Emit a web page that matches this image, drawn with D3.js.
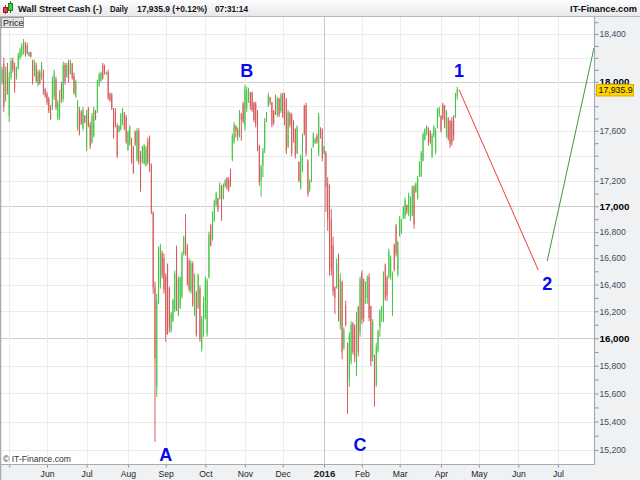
<!DOCTYPE html>
<html>
<head>
<meta charset="utf-8">
<script src="https://cdn.jsdelivr.net/npm/d3@7/dist/d3.min.js"></script>
<style>
  body { margin: 0; background: #fff; }
  svg { display: block; font-family: Arial, "Liberation Sans", sans-serif; }
</style>
</head>
<body>
<svg id="chart" width="640" height="480"></svg>
<script>
// Daily candles [open, high, low, close], one per weekday from 27 Apr 2015
const firstDay = '2015-04-27';
const may15 = [
  [18000,18126,17977,18100],[18150,18201,17753,17800],[17860,18126,17836,18080],[18120,18159,17894,17930],
  [17720,18085,17670,18040],[18040,18201,18018,18170],[18180,18201,18076,18100],[18130,18159,17910,17950],
  [18030,18126,18018,18100],[18110,18242,18101,18220],[18200,18284,18184,18260],[18230,18325,18209,18300],
  [18250,18358,18226,18330],[18310,18334,18209,18230],[18300,18325,18226,18240],[18215,18251,18209,18245],
  [18245,18251,18201,18210],[18170,18184,17977,18000],[18050,18184,18043,18160],[18140,18159,17993,18010],
  [17980,18101,17960,18080],[18080,18101,17977,17990],[18030,18168,18018,18140],[18080,18101,17894,17920],
  [17940,17952,17869,17880]
];
const jun15 = [
  [17900,17919,17811,17830],[17860,17877,17744,17760],[17790,17811,17686,17700],[17790,18043,17769,18010],
  [17880,18101,17852,18070],[18020,18043,17769,17790],[17700,17852,17686,17830],[17720,17935,17686,17910],
  [17980,18002,17827,17850],[17860,18168,17836,18140],[18140,18159,17977,18000],[18040,18159,18035,18140],
  [18160,18184,17993,18010],[18070,18184,18060,18170],[18150,18159,18018,18030],[18050,18076,17894,17910],
  [17880,18018,17869,18000],[17630,17852,17603,17830],[17770,17794,17562,17580],[17750,17769,17645,17660],
  [17620,17794,17603,17770],[17720,17728,17661,17670]
];
const jul15 = [
  [17470,17769,17437,17740],[17780,17794,17628,17640],[17650,17670,17454,17480],[17510,17744,17495,17720],
  [17560,17794,17545,17770],[17760,17769,17686,17700],[17760,18018,17744,17990],[17980,18076,17960,18060],
  [18010,18085,18002,18075],[18140,18159,18018,18030],[18130,18143,18060,18070],[18062,18085,18060,18080],
  [18080,18101,17852,17870],[17900,17910,17836,17845],[17890,17910,17769,17780],[17770,17786,17537,17550],
  [17760,17786,17628,17640],[17640,17661,17379,17400],[17590,17645,17587,17640],[17610,17744,17603,17730],
  [17650,17786,17645,17770],[17740,17753,17603,17620],[17710,17728,17495,17510]
];
const aug15 = [
  [17450,17603,17437,17590],[17490,17645,17479,17630],[17530,17545,17338,17360],[17460,17479,17254,17270],
  [17590,17603,17479,17490],[17370,17620,17354,17600],[17600,17620,17329,17350],[17420,17437,17114,17140],
  [17350,17479,17338,17470],[17340,17495,17329,17480],[17320,17479,17313,17460],[17520,17545,17329,17350],
  [17540,17562,17271,17290],[17320,17338,16939,16960],[16950,16962,16331,16380],[16380,16423,15256,15850],
  [15650,16331,15576,16280],[16280,16689,16255,16650],[16400,16711,16369,16680],[16640,16658,16445,16470],
  [16600,16635,16331,16360]
];
const sep15 = [
  [16460,16483,15974,16030],[16530,16559,16027,16060],[16370,16385,16043,16080],[16060,16195,16043,16180],
  [16130,16293,16119,16280],[16210,16506,16195,16480],[16670,16696,16202,16230],[16180,16461,16164,16440],
  [16230,16461,16217,16450],[16310,16651,16293,16630],[16630,16772,16620,16760],[16780,16939,16620,16640],
  [16690,16711,16392,16410],[16580,16597,16347,16360],[16350,16582,16331,16560],[16560,16575,16233,16250],
  [16180,16483,16164,16460],[16340,16354,16012,16030],[16230,16483,16217,16470],[16370,16392,15974,16000],
  [15930,16164,15903,16140],[16030,16309,16012,16290]
];
const oct15 = [
  [16150,16461,16141,16440],[16040,16445,16012,16430],[16460,16803,16445,16780],[16850,16863,16689,16700],
  [16750,16962,16734,16950],[16890,17053,16879,17040],[17010,17114,17000,17100],[17060,17069,16955,16980],
  [17060,17188,17053,17170],[17150,17167,16886,16920],[17060,17179,17053,17170],[17160,17213,17145,17200],
  [17220,17230,17129,17150],[17210,17230,17114,17130],[17280,17296,17152,17170],[17370,17578,17354,17560],
  [17510,17670,17495,17650],[17640,17645,17545,17600],[17610,17628,17520,17560],[17560,17769,17545,17750],
  [17735,17744,17520,17690],[17820,17836,17661,17680]
];
const nov15 = [
  [17640,17977,17603,17940],[17780,17960,17753,17930],[17860,17952,17827,17940],[17910,17919,17769,17800],
  [17910,17919,17753,17770],[17830,17836,17670,17690],[17820,17836,17628,17650],[17760,17769,17437,17460],
  [17480,17487,17163,17190],[17200,17329,17076,17310],[17320,17462,17230,17440],[17450,17703,17421,17680],
  [17690,17753,17670,17720],[17800,17910,17794,17890],[17870,17877,17811,17830],[17830,17836,17628,17660],
  [17760,17769,17645,17660],[17880,17894,17728,17750],[17730,17877,17711,17860],[17860,17869,17711,17730],
  [17760,17910,17744,17890]
];
const dec15 = [
  [17900,17910,17703,17720],[17900,17910,17645,17660],[17850,17869,17412,17440],[17470,17769,17462,17750],
  [17740,17753,17628,17650],[17730,17744,17396,17420],[17680,17686,17504,17520],[17610,17620,17379,17400],
  [17420,17645,17412,17630],[17350,17354,17188,17200],[17150,17412,17129,17390],[17300,17578,17271,17560],
  [17800,17811,17562,17580],[17810,17827,17396,17420],[17360,17371,17076,17100],[17130,17213,17114,17200],
  [17210,17462,17188,17440],[17470,17587,17462,17570],[17500,17545,17495,17530],[17560,17578,17495,17510],
  [17420,17744,17396,17720],[17620,17628,17537,17550],[17610,17620,17354,17380]
];
const jan16 = [
  [17415,17479,17412,17470],[17420,17437,16955,17150],[17180,17230,16810,16900],[17100,17171,16468,16560],
  [16900,16977,16468,16520],[16700,16765,16316,16350],[16380,16385,16179,16300],[16380,16597,16369,16560],
  [16600,16635,16126,16200],[16100,16483,16065,16440],[16420,16430,15846,15900],[15930,16081,15917,16060],
  [16240,16278,16088,16100],[15960,15967,15455,15760],[15700,16043,15647,16020],[15830,16126,15810,16100],
  [16110,16119,15881,15900],[16090,16103,15825,15860],[15750,16195,15725,16170],[16230,16240,15867,15900],
  [16050,16461,16012,16440]
];
const feb16 = [
  [16490,16506,16103,16140],[16440,16445,16119,16150],[16300,16423,16255,16410],[16300,16468,16255,16450],
  [16460,16483,16126,16150],[16240,16240,15796,15830],[15860,16141,15832,16120],[15870,15881,15505,15620],
  [15660,15967,15647,15940],[15910,16065,15896,16050],[16080,16217,16012,16200],[16190,16240,16119,16230],
  [16130,16499,16119,16480],[16550,16559,16278,16300],[16450,16468,16278,16320],[16460,16673,16445,16650],
  [16460,16620,16437,16600],[16190,16499,16164,16480],[16700,16711,16499,16520],[16850,16863,16613,16640],
  [16480,16734,16461,16720]
];
const mar16 = [
  [16770,16924,16765,16910],[16800,16901,16787,16890],[16905,17000,16901,16990],[16920,17069,16901,17050],
  [17010,17015,16939,16960],[16950,17107,16924,17090],[16890,17076,16886,17060],[16930,17163,16924,17150],
  [17150,17167,16825,16860],[17110,17188,17107,17180],[17060,17238,17053,17220],[17240,17354,17230,17340],
  [17240,17437,17230,17420],[17360,17587,17354,17570],[17530,17620,17520,17610],[17580,17645,17562,17640],
  [17620,17628,17479,17500],[17600,17603,17495,17510],[17400,17578,17379,17560],[17560,17645,17545,17630],
  [17430,17620,17412,17600],[17620,17786,17620,17770],[17730,17794,17711,17780]
];
const apr16 = [
  [17720,17728,17587,17600],[17810,17827,17686,17700],[17800,17811,17620,17640],[17560,17769,17545,17750],
  [17700,17711,17520,17540],[17680,17686,17462,17490],[17680,17711,17479,17500],[17700,17728,17520,17560],
  [17720,17910,17703,17890],[17880,17960,17852,17936]
];

const lastPrice = 17935.9;

// axis values
const gridPrices = [15200,15400,15600,15800,16000,16200,16400,16600,16800,17000,17200,17400,17600,17800,18000,18200,18400];
const majorPrices = [16000, 17000, 18000];
const priceLabels = [15200,15400,15600,15800,16000,16200,16400,16600,16800,17000,17200,17600,18000,18400];
const monthStarts = ['2015-05-01','2015-06-01','2015-07-01','2015-08-01','2015-09-01','2015-10-01','2015-11-01',
  '2015-12-01','2016-01-01','2016-02-01','2016-03-01','2016-04-01','2016-05-01','2016-06-01','2016-07-01'];
const monthLabels = ['','Jun','Jul','Aug','Sep','Oct','Nov','Dec','2016','Feb','Mar','Apr','May','Jun','Jul'];

// projected waves and the wave letters
const waveDown = [['2016-04-15', 17936], ['2016-06-16', 16510]];
const waveUp = [['2016-06-23', 16578], ['2016-07-29', 18282]];
const waveLabels = [
  ['A', '2015-09-01', 15167], ['B', '2015-11-03', 18098], ['C', '2016-01-29', 15238],
  ['1', '2016-04-15', 18090], ['2', '2016-06-23', 16405]
];

// header texts: [text, left x, width]
const headerParts = [
  ['Wall Street Cash (-)', 18, 84], ['Daily', 110, 18], ['17,935.9 (+0.12%)', 137, 70], ['07:31:14', 215, 33]
];

const candles = [].concat(may15, jun15, jul15, aug15, sep15, oct15, nov15, dec15, jan16, feb16, mar16, apr16);

const parseDay = d3.timeParse('%Y-%m-%d');
const start = parseDay(firstDay);

// count weekdays from the first candle (weekend dates fall on the next weekday)
function dayIndex(d) {
  let n = 0;
  for (let t = new Date(start); t < d; t.setDate(t.getDate() + 1)) {
    const w = t.getDay();
    if (w !== 0 && w !== 6) n++;
  }
  return n;
}

const plot = { left: 1, right: 594, top: 17, bottom: 464 };

const x = d3.scaleLinear()
  .domain([dayIndex(parseDay('2015-06-01')), dayIndex(parseDay('2016-07-01'))])
  .range([47, 558]);
const y = d3.scaleLog().domain([15200, 18400]).range([450, 34]);

const svg = d3.select('#chart');
const fmt = d3.format(',');

// backgrounds
svg.append('rect').attr('width', 640).attr('height', 480).attr('fill', '#fff');
svg.append('rect').attr('x', plot.right).attr('y', 16).attr('width', 640 - plot.right).attr('height', 464)
  .attr('fill', '#f0f1f3');
svg.append('rect').attr('x', 0).attr('y', plot.bottom).attr('width', 640).attr('height', 480 - plot.bottom)
  .attr('fill', '#f0f1f3');

// header
const defs = svg.append('defs');
const grad = defs.append('linearGradient').attr('id', 'hdr').attr('x1', 0).attr('y1', 0).attr('x2', 0).attr('y2', 1);
grad.append('stop').attr('offset', '0%').attr('stop-color', '#fdfdfd');
grad.append('stop').attr('offset', '100%').attr('stop-color', '#e6e8eb');
svg.append('rect').attr('width', 640).attr('height', 16).attr('fill', 'url(#hdr)');
svg.append('line').attr('x1', 0).attr('x2', 640).attr('y1', 16.5).attr('y2', 16.5).attr('stroke', '#b4b9be');

// little candle icon
const icon = svg.append('g');
icon.append('line').attr('x1', 5.5).attr('x2', 5.5).attr('y1', 5).attr('y2', 14).attr('stroke', '#c03030');
icon.append('rect').attr('x', 3.5).attr('y', 7.5).attr('width', 4).attr('height', 5).attr('fill', '#e04040').attr('stroke', '#a02020');
icon.append('line').attr('x1', 10.5).attr('x2', 10.5).attr('y1', 1).attr('y2', 13).attr('stroke', '#208020');
icon.append('rect').attr('x', 8.5).attr('y', 3.5).attr('width', 4).attr('height', 7).attr('fill', '#40d040').attr('stroke', '#208020');

svg.append('g').selectAll('text').data(headerParts).join('text')
  .attr('x', d => d[1]).attr('y', 12)
  .attr('textLength', d => d[2]).attr('lengthAdjust', 'spacingAndGlyphs')
  .attr('font-size', 9.6).attr('font-weight', 'bold').attr('fill', '#111')
  .text(d => d[0]);
svg.append('text').attr('x', 637).attr('y', 12).attr('text-anchor', 'end')
  .attr('font-size', 9.2).attr('font-weight', 'bold').attr('fill', '#111').text('IT-Finance.com');

// grid
const monthIdx = monthStarts.map(s => dayIndex(parseDay(s)));
const grid = svg.append('g');
grid.selectAll('line.h').data(gridPrices).join('line').attr('class', 'h')
  .attr('x1', plot.left).attr('x2', plot.right)
  .attr('y1', d => Math.round(y(d)) + 0.5).attr('y2', d => Math.round(y(d)) + 0.5)
  .attr('stroke', d => majorPrices.includes(d) ? '#cdcdcd' : '#ebebeb');
grid.selectAll('line.v').data(monthIdx).join('line').attr('class', 'v')
  .attr('x1', d => Math.round(x(d)) + 0.5).attr('x2', d => Math.round(x(d)) + 0.5)
  .attr('y1', plot.top).attr('y2', plot.bottom)
  .attr('stroke', (d, i) => monthLabels[i] === '2016' ? '#c8c8c8' : '#ececec');

// price box
svg.append('rect').attr('x', 1.5).attr('y', 17.5).attr('width', 22).attr('height', 10)
  .attr('fill', '#e4e4e4').attr('stroke', '#9a9a9a');
svg.append('text').attr('x', 3).attr('y', 25.8).attr('font-size', 9).attr('fill', '#222').text('Price');

// clip to plot area
defs.append('clipPath').attr('id', 'plotclip').append('rect')
  .attr('x', plot.left).attr('y', plot.top).attr('width', plot.right - plot.left).attr('height', plot.bottom - plot.top);

const up = '#46c646', down = '#d65c5c';
const bars = svg.append('g').attr('clip-path', 'url(#plotclip)');
const bar = bars.selectAll('g').data(candles).join('g');
bar.append('line')
  .attr('x1', (d, i) => x(i)).attr('x2', (d, i) => x(i))
  .attr('y1', d => y(d[1])).attr('y2', d => y(d[2]))
  .attr('stroke', d => d[3] >= d[0] ? up : down).attr('stroke-width', 1);
bar.append('line')
  .attr('x1', (d, i) => x(i)).attr('x2', (d, i) => x(i))
  .attr('y1', d => y(Math.max(d[0], d[3]))).attr('y2', d => y(Math.min(d[0], d[3])))
  .attr('stroke', d => d[3] >= d[0] ? up : down).attr('stroke-width', 1);

// wave projections
const waveLine = d3.line().x(d => x(dayIndex(parseDay(d[0])))).y(d => y(d[1]));
bars.append('path').attr('d', waveLine(waveDown)).attr('fill', 'none').attr('stroke', '#f03a3a').attr('stroke-width', 1);
bars.append('path').attr('d', waveLine(waveUp)).attr('fill', 'none').attr('stroke', '#3a9a3a').attr('stroke-width', 1);

svg.append('g').selectAll('text').data(waveLabels).join('text')
  .attr('x', d => x(dayIndex(parseDay(d[1])))).attr('y', d => y(d[2]))
  .attr('dy', '0.36em').attr('text-anchor', 'middle')
  .attr('font-size', 18).attr('font-weight', 'bold').attr('fill', '#0a0aee')
  .text(d => d[0]);

svg.append('text').attr('x', 3).attr('y', 462).attr('font-size', 8.6).attr('fill', '#333').text('\u00a9 IT-Finance.com');

// axes
const yAxis = svg.append('g').attr('transform', `translate(${plot.right + 0.5},0)`)
  .call(d3.axisRight(y).tickValues(d3.range(15200, 18501, 100))
    .tickFormat(v => priceLabels.includes(v) ? fmt(v) : '').tickSize(4).tickPadding(1));
yAxis.select('.domain').remove();
yAxis.selectAll('line').attr('stroke', '#8a949e');
yAxis.selectAll('text').attr('font-family', null)
  .attr('font-size', d => majorPrices.includes(d) ? 9.8 : 8.6)
  .attr('font-weight', d => majorPrices.includes(d) ? 'bold' : null)
  .attr('fill', d => majorPrices.includes(d) ? '#000' : '#3f4b58');

const xAxis = svg.append('g').attr('transform', `translate(0,${plot.bottom + 0.5})`)
  .call(d3.axisBottom(x).tickValues(monthIdx).tickFormat((d, i) => monthLabels[i]).tickSize(3).tickPadding(3));
xAxis.select('.domain').remove();
xAxis.selectAll('line').attr('stroke', '#8a949e');
xAxis.selectAll('text').attr('font-family', null)
  .attr('font-size', (d, i) => monthLabels[i] === '2016' ? 9.8 : 8.6)
  .attr('font-weight', (d, i) => monthLabels[i] === '2016' ? 'bold' : null)
  .attr('fill', '#222');

// frame lines
svg.append('line').attr('x1', plot.right + 0.5).attr('x2', plot.right + 0.5).attr('y1', plot.top).attr('y2', plot.bottom + 1)
  .attr('stroke', '#a3abb3').attr('stroke-width', 1.2);
svg.append('line').attr('x1', 0).attr('x2', plot.right + 1).attr('y1', plot.bottom + 0.5).attr('y2', plot.bottom + 0.5)
  .attr('stroke', '#a3abb3').attr('stroke-width', 1.2);
svg.append('line').attr('x1', 0.5).attr('x2', 0.5).attr('y1', plot.top).attr('y2', 480)
  .attr('stroke', '#a3abb3').attr('stroke-width', 1.5);

// last price tag (covers the lower half of the 18,000 label, as in the source)
const tagY = y(lastPrice);
svg.append('rect').attr('x', 596.5).attr('y', Math.round(tagY) - 5.5).attr('width', 37).attr('height', 11.5)
  .attr('fill', '#ffd400').attr('stroke', '#d9ad00');
svg.append('text').attr('x', 598.5).attr('y', tagY).attr('dy', '0.35em')
  .attr('font-size', 8.8).attr('fill', '#111').text(d3.format(',.1f')(lastPrice));
</script>
</body>
</html>
